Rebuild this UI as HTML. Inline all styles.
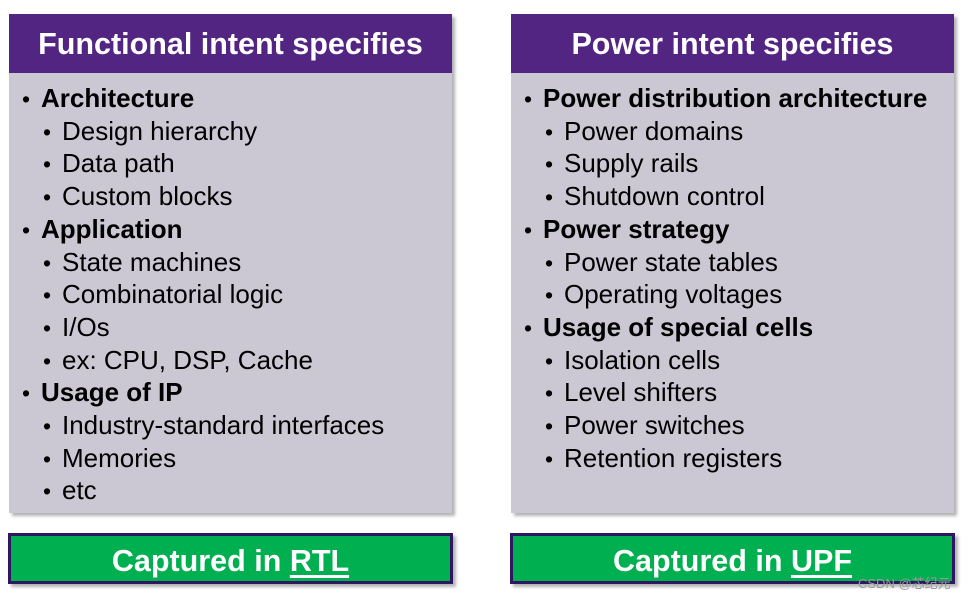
<!DOCTYPE html>
<html><head><style>
body{margin:0;width:973px;height:599px;background:#fff;position:relative;font-family:"Liberation Sans",Arial,sans-serif;overflow:hidden}
.box{position:absolute;top:14px;width:443px;height:499px;background:#cbc8d4;box-shadow:3px 3px 3px rgba(0,0,0,.3)}
.hd{height:59px;background:#532583;color:#fff;font-weight:bold;font-size:30.5px;text-align:center;line-height:60px}
.l{position:absolute;font-size:26px;line-height:32.7px;white-space:nowrap;color:#000}
.b{position:absolute;font-size:23px;line-height:32.7px;color:#000}
.g{position:absolute;height:45px;background:#00b050;border:3px solid #2e1760;color:#fff;font-weight:bold;font-size:30.5px;text-align:center;line-height:50px;box-shadow:3px 3px 3px rgba(0,0,0,.3)}
.g u{text-decoration-thickness:3px;text-underline-offset:4px}
</style></head><body>
<div class="box" style="left:9px"><div class="hd">Functional intent specifies</div></div>
<div class="box" style="left:511px"><div class="hd">Power intent specifies</div></div>
<div id="L"></div>
<div class="g" style="left:8px;top:533px;width:439px">Captured in <u>RTL</u></div>
<div class="g" style="left:510px;top:533px;width:439px">Captured in <u>UPF</u></div>
<div style="position:absolute;left:858px;top:573px;font-size:13px;color:#999;font-family:'Liberation Sans','Noto Sans CJK SC',sans-serif">CSDN @芯纪元</div>
<script>
var A=[[1,"Architecture"],[0,"Design hierarchy"],[0,"Data path"],[0,"Custom blocks"],[1,"Application"],[0,"State machines"],[0,"Combinatorial logic"],[0,"I/Os"],[0,"ex: CPU, DSP, Cache"],[1,"Usage of IP"],[0,"Industry-standard interfaces"],[0,"Memories"],[0,"etc"]];
var B=[[1,"Power distribution architecture"],[0,"Power domains"],[0,"Supply rails"],[0,"Shutdown control"],[1,"Power strategy"],[0,"Power state tables"],[0,"Operating voltages"],[1,"Usage of special cells"],[0,"Isolation cells"],[0,"Level shifters"],[0,"Power switches"],[0,"Retention registers"]];
var h="";
function f(a,x){a.forEach(function(e,i){var y=82+i*32.7;
h+='<div class="b" style="left:'+(x+(e[0]?0:21))+'px;top:'+(y+1)+'px">•</div>';
h+='<div class="l" style="left:'+(x+(e[0]?19:40))+'px;top:'+y+'px">'+(e[0]?'<b>'+e[1]+'</b>':e[1])+'</div>';});}
f(A,22);f(B,524);
document.getElementById("L").innerHTML=h;
</script>
</body></html>
